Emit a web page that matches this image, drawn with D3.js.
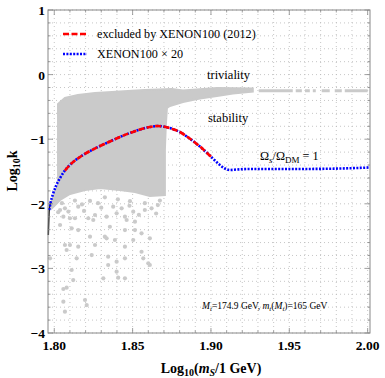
<!DOCTYPE html>
<html>
<head>
<meta charset="utf-8">
<script src="https://cdn.jsdelivr.net/npm/d3@7"></script>
<style>
  body { margin: 0; background: #fff; }
  text { font-family: "Liberation Serif", "Times New Roman", serif; }
</style>
</head>
<body>
<div id="chart"></div>
<script>
// chart size
const width = 385;
const height = 378;
const margin = {left: 48, right: 15, top: 10, bottom: 45};

// relic density curve Omega_s/Omega_DM = 1  (log10 mS, log10 k)
const curveX = [1.7962, 1.7968, 1.7976, 1.7992, 1.8011, 1.8037, 1.8068, 1.8113, 1.8164, 1.8228,
  1.8292, 1.8355, 1.8419, 1.8483, 1.8547, 1.8610, 1.8661, 1.8712, 1.8763, 1.8802,
  1.8846, 1.8885, 1.8948, 1.9012, 1.9057, 1.9089, 1.9120, 1.9165, 1.9248, 1.9567,
  1.9822, 2.0013];
const curveY = [-2.483, -2.096, -1.988, -1.848, -1.724, -1.601, -1.485, -1.368, -1.276, -1.183,
  -1.105, -1.036, -0.966, -0.904, -0.850, -0.811, -0.796, -0.811, -0.850, -0.889,
  -0.958, -1.028, -1.152, -1.299, -1.399, -1.454, -1.477, -1.469, -1.461, -1.461,
  -1.454, -1.438];
// range of the curve excluded by XENON100 (2012)
const excludedRange = [1.806, 1.905];

// dense part of the scanned points (outline)
const denseX = [1.8024, 1.8068, 1.8151, 1.8260, 1.8368, 1.8470, 1.8578, 1.8751, 1.8821, 1.9038, 1.9267,
  1.9267, 1.9140, 1.9038, 1.8929, 1.8821, 1.8738, 1.8719, 1.8712, 1.8706, 1.8706,
  1.8610, 1.8515, 1.8419, 1.8292, 1.8196, 1.8100, 1.8037, 1.7986, 1.7986, 1.8024];
const denseY = [-0.455, -0.362, -0.316, -0.285, -0.269, -0.254, -0.238, -0.223, -0.246, -0.207, -0.215,
  -0.262, -0.293, -0.331, -0.370, -0.424, -0.486, -0.517, -0.780, -1.167, -1.864,
  -1.879, -1.817, -1.786, -1.755, -1.786, -1.848, -1.941, -2.065, -1.941, -1.709];

// isolated scanned points
const pointX = [1.8037, 1.8068, 1.8153, 1.8058, 1.8100, 1.8037, 1.8132, 1.8217, 1.8260, 1.8249,
  1.8334, 1.8398, 1.8451, 1.8462, 1.8504, 1.8515, 1.8578, 1.8376, 1.8430, 1.8621,
  1.8111, 1.8153, 1.8355, 1.8451, 1.8515, 1.8557, 1.8228, 1.8323, 1.8334, 1.8387,
  1.8504, 1.8610, 1.8068, 1.8100, 1.8153, 1.8079, 1.8260, 1.8451, 1.8557, 1.8239,
  1.8143, 1.8344, 1.8568, 1.8398, 1.8344, 1.8451, 1.8600, 1.7973, 1.8398, 1.8111,
  1.8121, 1.8058, 1.8079, 1.8313, 1.8408, 1.8451, 1.8058, 1.8068, 1.8196, 1.8207,
  1.8610, 1.8005, 1.8049, 1.8132, 1.8228, 1.8323, 1.8406, 1.8483, 1.8578, 1.8661,
  1.8674, 1.8177, 1.8279, 1.8090, 1.8190, 1.8300, 1.8480, 1.8540, 1.8650, 1.8025];
const pointY = [-2.096, -2.070, -2.045, -2.200, -2.224, -2.328, -2.224, -2.224, -2.173, -2.251,
  -2.200, -2.147, -2.200, -2.251, -2.122, -2.277, -2.096, -2.045, -2.070, -2.070,
  -2.379, -2.406, -2.355, -2.406, -2.406, -2.457, -2.509, -2.509, -2.534, -2.560,
  -2.560, -2.534, -2.638, -2.638, -2.664, -2.715, -2.638, -2.664, -2.742, -2.793,
  -2.844, -2.819, -2.844, -2.896, -2.947, -2.844, -2.921, -2.844, -3.051, -3.025,
  -3.180, -3.319, -3.299, -3.153, -3.144, -3.153, -3.515, -3.670, -3.489, -3.567,
  -2.947, -1.990, -1.990, -1.950, -1.955, -1.900, -1.930, -1.960, -1.990, -2.020,
  -1.950, -2.010, -1.990, -2.120, -2.110, -2.060, -2.030, -2.170, -2.150, -2.130];

// thin triviality band at large mS (pieces)
const bandStart = [1.9305, 1.9541, 1.9600, 1.9650, 1.9707, 1.9790, 1.9854];
const bandEnd = [1.9522, 1.9580, 1.9631, 1.9669, 1.9758, 1.9835, 2.0000];
const bandY = -0.25;

// ticks
const xTicks = [1.80, 1.85, 1.90, 1.95, 2.00];
const yTicks = [1, 0, -1, -2, -3, -4];

const svg = d3.select("#chart")
  .append("svg")
  .attr("width", width)
  .attr("height", height);

const x = d3.scaleLinear()
  .domain([1.796, 2.0015])
  .range([margin.left, width - margin.right]);

const y = d3.scaleLinear()
  .domain([-4, 1])
  .range([height - margin.bottom, margin.top]);

const x0 = x.range()[0], x1 = x.range()[1];
const y0 = y.range()[0], y1 = y.range()[1];

// dotted grid
const gridX = d3.range(180, 201).map(v => v / 100);
const gridY = d3.range(-20, 6).map(v => v / 5);

svg.append("g")
  .selectAll("line")
  .data(gridX)
  .join("line")
    .attr("x1", d => x(d)).attr("x2", d => x(d))
    .attr("y1", y1).attr("y2", y0)
    .attr("stroke", "#b8b8b8")
    .attr("stroke-width", 0.8)
    .attr("stroke-dasharray", "1,3");

svg.append("g")
  .selectAll("line")
  .data(gridY)
  .join("line")
    .attr("x1", x0).attr("x2", x1)
    .attr("y1", d => y(d)).attr("y2", d => y(d))
    .attr("stroke", "#b8b8b8")
    .attr("stroke-width", 0.8)
    .attr("stroke-dasharray", "1,3");

// scanned points
const gray = "#cacaca";
const dense = d3.zip(denseX, denseY);
svg.append("path")
  .attr("d", d3.line().x(d => x(d[0])).y(d => y(d[1])).curve(d3.curveLinearClosed)(dense))
  .attr("fill", gray)
  .attr("stroke", gray)
  .attr("stroke-width", 2);

svg.append("g")
  .selectAll("circle")
  .data(d3.zip(pointX, pointY))
  .join("circle")
    .attr("cx", d => x(d[0]))
    .attr("cy", d => y(d[1]))
    .attr("r", 2.1)
    .attr("fill", gray);

svg.append("g")
  .selectAll("line")
  .data(d3.zip(bandStart, bandEnd))
  .join("line")
    .attr("x1", d => x(d[0])).attr("x2", d => x(d[1]))
    .attr("y1", y(bandY)).attr("y2", y(bandY))
    .attr("stroke", gray)
    .attr("stroke-width", 3);

// curve
const curve = d3.zip(curveX, curveY);
const line = d3.line().x(d => x(d[0])).y(d => y(d[1])).curve(d3.curveMonotoneX);

svg.append("path")
  .attr("d", line(curve.slice(0, 3)))
  .attr("fill", "none")
  .attr("stroke", "#222")
  .attr("stroke-width", 1.5);

svg.append("path")
  .attr("d", line(curve.slice(1)))
  .attr("fill", "none")
  .attr("stroke", "#0000ff")
  .attr("stroke-width", 2.6)
  .attr("stroke-dasharray", "2,1.4");

const excluded = curve.filter(d => d[0] >= excludedRange[0] && d[0] <= excludedRange[1]);
svg.append("path")
  .attr("d", line(excluded))
  .attr("fill", "none")
  .attr("stroke", "#ff0000")
  .attr("stroke-width", 2.6)
  .attr("stroke-dasharray", "6,2.5");

// frame and ticks
svg.append("rect")
  .attr("x", x0).attr("y", y1)
  .attr("width", x1 - x0).attr("height", y0 - y1)
  .attr("fill", "none")
  .attr("stroke", "#888")
  .attr("stroke-width", 1);

const tickG = svg.append("g").attr("stroke", "#888").attr("stroke-width", 0.8);
gridX.forEach(v => {
  const big = xTicks.some(t => Math.abs(t - v) < 1e-6);
  const len = big ? 5 : 2.5;
  tickG.append("line").attr("x1", x(v)).attr("x2", x(v)).attr("y1", y0).attr("y2", y0 - len);
  tickG.append("line").attr("x1", x(v)).attr("x2", x(v)).attr("y1", y1).attr("y2", y1 + len);
});
gridY.forEach(v => {
  const big = yTicks.some(t => Math.abs(t - v) < 1e-6);
  const len = big ? 5 : 2.5;
  tickG.append("line").attr("x1", x0).attr("x2", x0 + len).attr("y1", y(v)).attr("y2", y(v));
  tickG.append("line").attr("x1", x1).attr("x2", x1 - len).attr("y1", y(v)).attr("y2", y(v));
});

// tick labels
svg.append("g")
  .selectAll("text")
  .data(xTicks)
  .join("text")
    .attr("x", d => x(d))
    .attr("y", y0 + 17)
    .attr("text-anchor", "middle")
    .attr("font-size", 13.5)
    .attr("font-weight", "bold")
    .text(d => d.toFixed(2));

svg.append("g")
  .selectAll("text")
  .data(yTicks)
  .join("text")
    .attr("x", x0 - 3)
    .attr("y", d => y(d) + 5)
    .attr("text-anchor", "end")
    .attr("font-size", 13.5)
    .attr("font-weight", "bold")
    .text(d => d < 0 ? "\u2212" + Math.abs(d) : d);

// axis titles
const xt = svg.append("text")
  .attr("x", 211).attr("y", 373)
  .attr("text-anchor", "middle")
  .attr("font-size", 14)
  .attr("font-weight", "bold");
xt.append("tspan").text("Log");
xt.append("tspan").attr("font-size", 10).attr("dy", 3).text("10");
xt.append("tspan").attr("dy", -3).text("(");
xt.append("tspan").attr("font-style", "italic").text("m");
xt.append("tspan").attr("font-style", "italic").attr("font-size", 10).attr("dy", 3).text("S");
xt.append("tspan").attr("dy", -3).text("/1 GeV)");

const yt = svg.append("text")
  .attr("transform", "translate(17,171) rotate(-90)")
  .attr("text-anchor", "middle")
  .attr("font-size", 14)
  .attr("font-weight", "bold");
yt.append("tspan").text("Log");
yt.append("tspan").attr("font-size", 10).attr("dy", 3).text("10");
yt.append("tspan").attr("dy", -3).text("k");

// legend
const legend = svg.append("g");
legend.append("line")
  .attr("x1", 63).attr("x2", 87).attr("y1", 34).attr("y2", 34)
  .attr("stroke", "#ff0000").attr("stroke-width", 2.6).attr("stroke-dasharray", "6,2.5");
legend.append("text")
  .attr("x", 97).attr("y", 38).attr("font-size", 12.2)
  .text("excluded by XENON100 (2012)");
legend.append("line")
  .attr("x1", 63).attr("x2", 87).attr("y1", 54).attr("y2", 54)
  .attr("stroke", "#0000ff").attr("stroke-width", 2.6).attr("stroke-dasharray", "2,1.4");
legend.append("text")
  .attr("x", 97).attr("y", 58).attr("font-size", 12.2)
  .text("XENON100 \u00d7 20");

// annotations
svg.append("text").attr("x", 207).attr("y", 79).attr("font-size", 12.5).text("triviality");
svg.append("text").attr("x", 208).attr("y", 122).attr("font-size", 12.5).text("stability");

const om = svg.append("text").attr("x", 260).attr("y", 160).attr("font-size", 12.2);
om.append("tspan").text("\u03a9");
om.append("tspan").attr("font-size", 9).attr("dy", 3).attr("font-style", "italic").text("s");
om.append("tspan").attr("dy", -3).text("/\u03a9");
om.append("tspan").attr("font-size", 9).attr("dy", 3).text("DM");
om.append("tspan").attr("dy", -3).text(" = 1");

const mt = svg.append("text").attr("x", 202).attr("y", 309).attr("font-size", 9.5);
mt.append("tspan").attr("font-style", "italic").text("M");
mt.append("tspan").attr("font-style", "italic").attr("font-size", 7).attr("dy", 2).text("t");
mt.append("tspan").attr("dy", -2).text("=174.9 GeV, ");
mt.append("tspan").attr("font-style", "italic").text("m");
mt.append("tspan").attr("font-style", "italic").attr("font-size", 7).attr("dy", 2).text("t");
mt.append("tspan").attr("dy", -2).text("(");
mt.append("tspan").attr("font-style", "italic").text("M");
mt.append("tspan").attr("font-style", "italic").attr("font-size", 7).attr("dy", 2).text("t");
mt.append("tspan").attr("dy", -2).text(")=165 GeV");
</script>
</body>
</html>
